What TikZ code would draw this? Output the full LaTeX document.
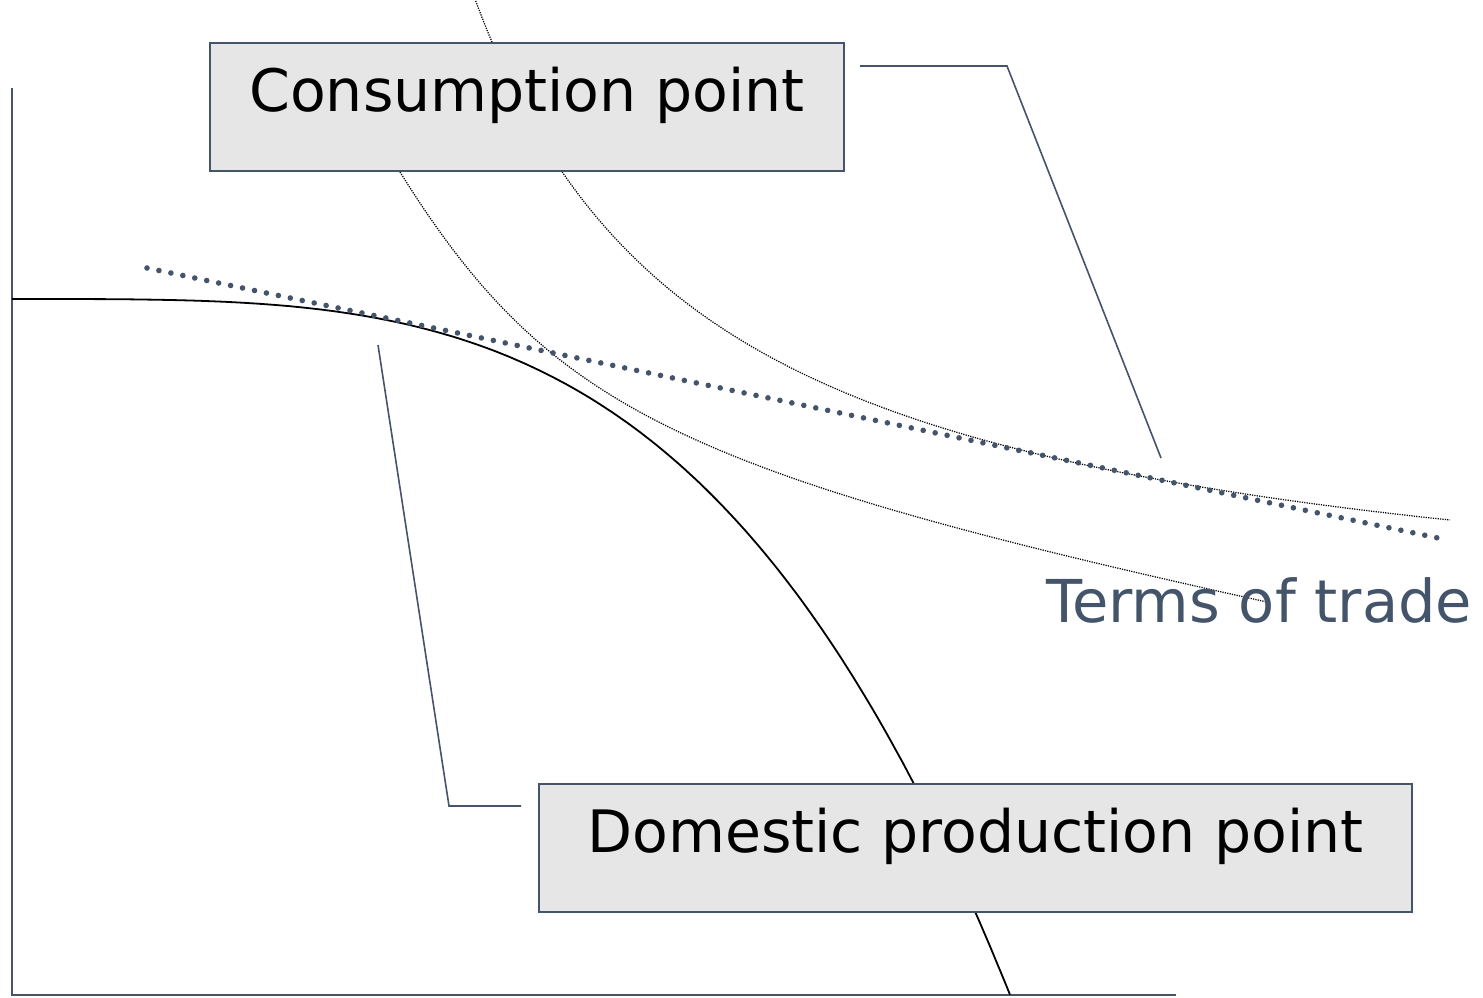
\documentclass[tikz,border=0pt]{standalone}
\usepackage{fontspec}
\setmainfont{DejaVu Sans}
\definecolor{slateC}{HTML}{44546A}
\definecolor{boxfill}{HTML}{E6E6E6}
\begin{document}
\begin{tikzpicture}[x=1pt,y=-1pt,
  axisline/.style={draw=slateC, line width=1.5pt},
  ppfline/.style={draw=black, line width=1.8pt},
  icline/.style={draw=black, line width=1.25pt, dash pattern=on 1.2pt off 1.2pt},
  totline/.style={draw=slateC, line width=5.6pt, line cap=round, dash pattern=on 0pt off 12.2pt},
  labelbox/.style={draw=slateC, fill=boxfill, line width=1.8pt, inner sep=0pt,
     text height=69pt, text depth=59pt, anchor=north west,
     font=\fontsize{58.5}{70}\selectfont},
  callout/.style={draw=slateC, line width=1.6pt},
  totlabel/.style={text=slateC, inner sep=0pt, anchor=base west,
     font=\fontsize{59.1}{70}\selectfont}]
\useasboundingbox (0,0) rectangle (1483,997);
% axes
\coordinate (ytop) at (12,88);
\coordinate (origin) at (12,995);
\coordinate (xend) at (1176,995);
\draw[axisline] (ytop) -- (origin) -- (xend);
% production possibility frontier
\draw[ppfline] (12,299) -- plot[domain=1:998, samples=160, smooth] ({12+\x}, {299+696*pow(\x/998,3.57)});
% indifference curves
\draw[icline] plot[domain=474:1450, samples=120, smooth] (\x, {648.5-1561.72/((\x-234.5)/100)});
\coordinate (ic1) at (400,172);
\coordinate (ic2) at (1267,602);
\draw[icline] (ic1) .. controls (547,407) and (677,472) .. (ic2);
% terms of trade line
\coordinate (tot1) at (147,268);
\coordinate (tot2) at (1438,538);
\draw[totline] (tot1) -- (tot2);
% label boxes
\node[labelbox, minimum width=634pt] (cbox) at (209,42) {Consumption point};
\node[labelbox, minimum width=873pt] (dbox) at (538,783) {Domestic production point};
% callouts
\coordinate (c1) at (860,66);
\coordinate (c2) at (1007,66);
\coordinate (c3) at (1161,458);
\draw[callout] (c1) -- (c2) -- (c3);
\coordinate (d1) at (521,806);
\coordinate (d2) at (449,806);
\coordinate (d3) at (378,345);
\draw[callout] (d1) -- (d2) -- (d3);
% terms of trade label
\node[totlabel] (totl) at (1046,622) {Terms of trade};
\end{tikzpicture}
\end{document}
